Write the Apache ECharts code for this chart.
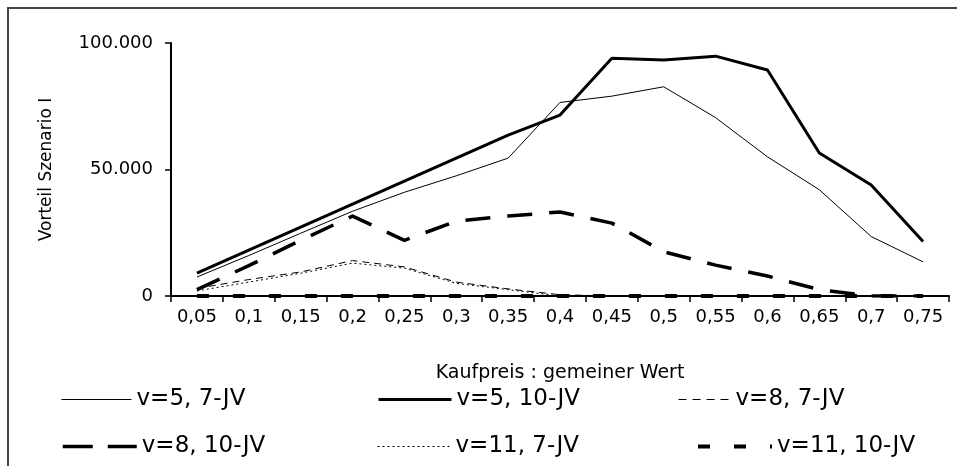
<!DOCTYPE html>
<html>
<head>
<meta charset="utf-8">
<script src="https://cdn.jsdelivr.net/npm/echarts@6/dist/echarts.min.js"></script>
<style>
  html, body { margin: 0; padding: 0; background: #fff; }
  #chart { width: 957px; height: 466px; }
</style>
</head>
<body>
<div id="chart"></div>
<script>
// ---- data ----
const categories = ['0,05','0,1','0,15','0,2','0,25','0,3','0,35','0,4','0,45','0,5','0,55','0,6','0,65','0,7','0,75'];
const v5_7JV  = [7500, 16000, 24800, 33500, 41000, 47500, 54500, 76500, 79000, 82700, 70500, 55000, 42000, 23500, 13500];
const v5_10JV = [9000, 18100, 27200, 36300, 45400, 54500, 63600, 71500, 94000, 93300, 94800, 89300, 56500, 43900, 21500];
const v8_7JV  = [3000, 6500, 9500, 14000, 11500, 5500, 2800, 500, 0, 0, 0, 0, 0, 0, 0];
const v8_10JV = [2500, 12000, 22000, 31600, 22000, 29600, 31600, 33200, 28800, 17500, 12200, 7900, 2500, 0, 0];
const v11_7JV = [2000, 5500, 9000, 13000, 11000, 5000, 2500, 0, 0, 0, 0, 0, 0, 0, 0];
const v11_10JV = [0, 0, 0, 0, 0, 0, 0, 0, 0, 0, 0, 0, 0, 0, 0];
const seriesNames = ['v=5, 7-JV', 'v=5, 10-JV', 'v=8, 7-JV', 'v=8, 10-JV', 'v=11, 7-JV', 'v=11, 10-JV'];
const yTicks = [0, 50000, 100000];

const FONT = 'DejaVu Sans';
const styles = [
  { width: 1, type: 'solid' },
  { width: 3, type: 'solid' },
  { width: 1, type: [7, 5] },
  { width: 3.5, type: [25, 17] },
  { width: 1, type: [2, 3] },
  { width: 4, type: [12, 24] }
];
const dataArr = [v5_7JV, v5_10JV, v8_7JV, v8_10JV, v11_7JV, v11_10JV];

const legendPos = [
  { left: 61, top: 388, lineType: 'solid', w: 70 },
  { left: 377, top: 388, lineType: 'solid', w: 73 },
  { left: 678, top: 388, lineType: [8, 6], w: 52 },
  { left: 61, top: 435, lineType: [30, 15], w: 74 },
  { left: 377, top: 435, lineType: [2, 3], w: 73 },
  { left: 696, top: 435, lineType: [12, 24], w: 74 }
];

function fmt(v) {
  return String(v).replace(/\B(?=(\d{3})+(?!\d))/g, '.');
}

const chart = echarts.init(document.getElementById('chart'), null, { renderer: 'canvas' });

const option = {
  animation: false,
  backgroundColor: '#ffffff',
  graphic: [{
    type: 'rect',
    shape: { x: 8, y: 8, width: 1000, height: 500 },
    style: { fill: 'none', stroke: '#444444', lineWidth: 2 },
    silent: true
  }],
  grid: { left: 171, right: 8, top: 43, bottom: 170, containLabel: false },
  xAxis: {
    type: 'category',
    data: categories,
    boundaryGap: true,
    name: 'Kaufpreis : gemeiner Wert',
    nameLocation: 'middle',
    nameGap: 68,
    nameTextStyle: { fontFamily: FONT, fontSize: 19, color: '#000' },
    axisLine: { lineStyle: { color: '#000', width: 2 } },
    axisTick: { show: true, length: 6, lineStyle: { color: '#000', width: 1.5 }, alignWithLabel: false },
    axisLabel: { interval: 0, margin: 12, fontFamily: FONT, fontSize: 18, color: '#000' },
    splitLine: { show: false }
  },
  yAxis: {
    type: 'value',
    min: 0,
    max: 100000,
    interval: 50000,
    name: 'Vorteil Szenario I',
    nameLocation: 'middle',
    nameRotate: 90,
    nameGap: 116,
    nameTextStyle: { fontFamily: FONT, fontSize: 17, color: '#000' },
    axisLine: { show: true, lineStyle: { color: '#000', width: 2 } },
    axisTick: { show: true, length: 6, lineStyle: { color: '#000', width: 1.5 } },
    axisLabel: { margin: 18, fontFamily: FONT, fontSize: 18, color: '#000',
      formatter: function (v) { return yTicks.indexOf(v) >= 0 ? fmt(v) : ''; } },
    splitLine: { show: false }
  },
  legend: legendPos.map(function (p, i) {
    return {
      data: [seriesNames[i]],
      left: p.left,
      top: p.top,
      itemWidth: p.w,
      itemHeight: 14,
      padding: 0,
      textStyle: { fontFamily: FONT, fontSize: 23, color: '#000' },
      itemStyle: { color: 'rgba(0,0,0,0)', borderWidth: 0, opacity: 0 },
      lineStyle: { type: p.lineType, color: '#000', width: styles[i].width, cap: 'butt', opacity: 1 },
      selectedMode: false
    };
  }),
  series: dataArr.map(function (d, i) {
    return {
      name: seriesNames[i],
      type: 'line',
      data: d,
      symbol: 'none',
      smooth: false,
      z: i === 1 ? 5 : 3,
      lineStyle: { color: '#000', width: styles[i].width, type: styles[i].type, cap: 'butt', join: 'round' },
      itemStyle: { color: '#000' },
      emphasis: { disabled: true }
    };
  })
};

chart.setOption(option);
</script>
</body>
</html>
